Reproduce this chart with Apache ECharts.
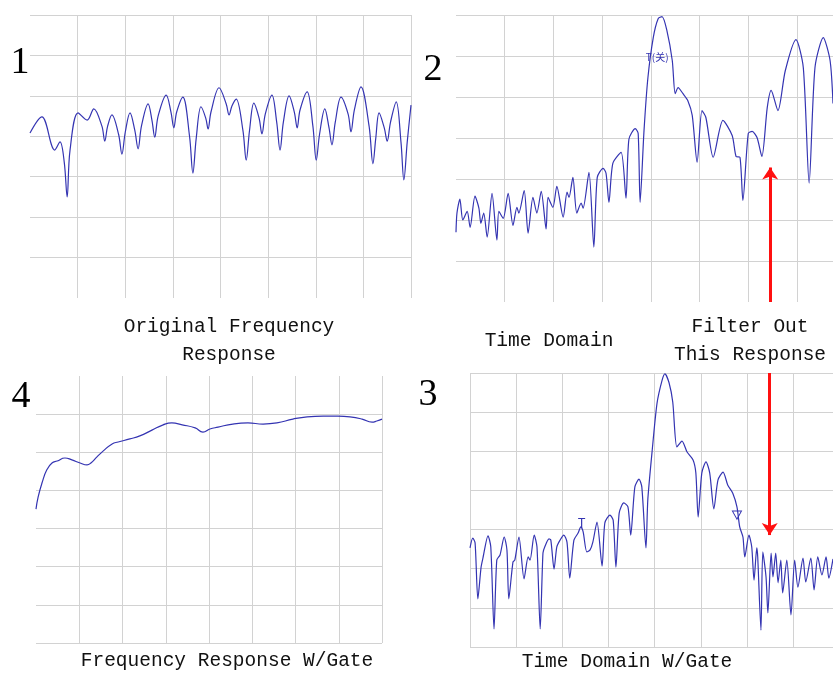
<!DOCTYPE html>
<html>
<head>
<meta charset="utf-8">
<script src="https://cdn.jsdelivr.net/npm/echarts@6/dist/echarts.min.js"></script>
<style>
    html, body { margin: 0; padding: 0; background: #fff; }
    #chart { width: 833px; height: 673px; }
</style>
</head>
<body>
<div id="chart"></div>
<script>
// panel 1 - original frequency response
const origFreqX = [0, 0.25, 0.52, 0.63, 0.72, 0.78, 0.84, 1.01, 1.20, 1.34, 1.51, 1.57, 1.63, 1.72, 1.86, 1.93, 2.00, 2.10, 2.20, 2.27, 2.34, 2.48, 2.56, 2.62, 2.69, 2.86, 2.96, 3.02, 3.08, 3.21, 3.35, 3.42, 3.49, 3.59, 3.69, 3.74, 3.80, 3.97, 4.12, 4.18, 4.24, 4.33, 4.47, 4.54, 4.61, 4.70, 4.81, 4.87, 4.94, 5.08, 5.18, 5.25, 5.32, 5.44, 5.55, 5.61, 5.67, 5.82, 5.94, 6.01, 6.08, 6.19, 6.28, 6.34, 6.41, 6.53, 6.68, 6.74, 6.81, 6.95, 7.12, 7.20, 7.26, 7.33, 7.44, 7.50, 7.57, 7.69, 7.79, 7.85, 7.92, 8.0];
const origFreqY = [40.8, 44.8, 36.6, 38.6, 33.5, 25.0, 36.5, 45.8, 44.0, 46.8, 42.5, 38.8, 42.5, 45.3, 40.5, 35.6, 41.0, 45.8, 41.5, 36.9, 42.5, 48.0, 44.0, 39.8, 45.0, 50.2, 46.0, 42.1, 46.0, 49.7, 40.0, 30.9, 39.5, 47.3, 44.5, 41.8, 46.0, 52.0, 48.0, 45.3, 47.5, 49.2, 41.5, 34.1, 41.5, 48.2, 44.5, 40.6, 45.5, 50.2, 43.5, 36.6, 43.5, 50.0, 46.0, 42.1, 46.5, 51.0, 42.5, 34.1, 40.5, 46.8, 42.0, 37.9, 43.5, 49.7, 45.5, 41.1, 46.5, 52.2, 42.5, 33.2, 39.5, 45.8, 42.0, 38.8, 43.5, 48.5, 38.5, 29.2, 38.5, 47.7];

// panel 2 - time domain
const timeX = [0.00, 0.02, 0.08, 0.14, 0.23, 0.29, 0.39, 0.47, 0.51, 0.57, 0.64, 0.74, 0.84, 0.88, 0.97, 1.07, 1.17, 1.25, 1.29, 1.40, 1.48, 1.58, 1.66, 1.75, 1.85, 1.89, 1.99, 2.07, 2.20, 2.28, 2.32, 2.40, 2.48, 2.57, 2.61, 2.73, 2.83, 2.90, 3.02, 3.08, 3.14, 3.22, 3.39, 3.49, 3.55, 3.68, 3.74, 3.78, 3.86, 3.94, 4.05, 4.15, 4.23, 4.33, 4.44, 4.50, 4.56, 4.66, 4.76, 4.85, 4.95, 5.05, 5.13, 5.28, 5.48, 5.67, 5.75, 5.83, 5.89, 6.00, 6.08, 6.18, 6.28, 6.39, 6.47, 6.61, 6.76, 6.98, 7.13, 7.25, 7.37, 7.54, 7.68, 7.74];
const timeY = [17.0, 21.7, 25.1, 20.0, 22.1, 18.2, 25.8, 22.9, 19.2, 21.7, 15.8, 26.5, 15.1, 22.1, 20.4, 26.5, 18.7, 23.1, 21.7, 27.2, 16.8, 25.5, 21.7, 27.0, 17.8, 25.5, 23.1, 28.2, 20.7, 26.8, 25.5, 30.4, 21.7, 24.1, 22.9, 31.6, 13.4, 30.4, 32.6, 31.4, 24.3, 33.8, 36.5, 25.3, 39.7, 42.3, 41.1, 24.3, 41.8, 54.7, 64.5, 69.1, 69.6, 66.2, 58.9, 50.8, 52.3, 50.8, 49.1, 45.5, 34.1, 46.7, 45.0, 35.3, 44.3, 40.6, 35.5, 35.3, 24.8, 41.1, 41.6, 40.1, 35.5, 47.4, 51.6, 46.7, 56.4, 64.0, 57.2, 29.0, 57.2, 64.5, 58.9, 48.4];

// panel 3 - time domain with gate
const gatedTimeX = [0.00, 0.06, 0.11, 0.17, 0.24, 0.28, 0.39, 0.45, 0.52, 0.58, 0.65, 0.74, 0.80, 0.84, 0.93, 0.97, 1.06, 1.17, 1.26, 1.30, 1.39, 1.45, 1.52, 1.58, 1.62, 1.71, 1.75, 1.82, 1.88, 1.95, 2.03, 2.10, 2.16, 2.25, 2.34, 2.40, 2.45, 2.53, 2.60, 2.66, 2.75, 2.86, 2.92, 3.03, 3.10, 3.16, 3.23, 3.33, 3.42, 3.48, 3.57, 3.66, 3.72, 3.81, 3.85, 3.94, 4.05, 4.16, 4.22, 4.31, 4.39, 4.48, 4.59, 4.70, 4.83, 4.89, 4.94, 5.02, 5.11, 5.19, 5.28, 5.37, 5.48, 5.58, 5.69, 5.78, 5.84, 5.91, 5.95, 6.04, 6.10, 6.15, 6.21, 6.23, 6.30, 6.34, 6.41, 6.45, 6.52, 6.56, 6.62, 6.67, 6.73, 6.77, 6.86, 6.95, 7.03, 7.10, 7.21, 7.27, 7.38, 7.45, 7.53, 7.62, 7.71, 7.77, 7.86];
const gatedTimeY = [25.3, 27.8, 26.6, 12.3, 20.4, 22.7, 28.4, 25.6, 4.6, 22.2, 23.5, 28.1, 24.8, 12.3, 21.7, 22.2, 28.1, 17.4, 23.0, 22.2, 28.6, 25.6, 4.6, 24.0, 25.6, 27.6, 27.3, 19.9, 25.6, 27.3, 28.6, 26.8, 17.6, 27.3, 29.1, 30.7, 29.4, 24.3, 24.8, 26.8, 31.9, 20.7, 31.7, 33.7, 32.4, 20.4, 34.2, 36.8, 35.8, 28.6, 40.9, 42.9, 40.9, 25.3, 37.6, 49.6, 62.3, 68.2, 69.8, 67.5, 62.6, 51.1, 52.6, 49.8, 47.8, 44.5, 33.2, 44.5, 47.3, 44.5, 35.3, 42.7, 44.7, 41.4, 39.3, 35.8, 30.7, 28.1, 23.0, 28.6, 25.6, 17.1, 25.3, 23.0, 4.3, 24.3, 17.9, 8.7, 24.0, 17.9, 24.0, 16.4, 22.2, 13.8, 22.2, 8.2, 22.2, 15.3, 22.7, 16.6, 22.7, 14.6, 23.0, 18.4, 23.0, 17.6, 22.5];

// panel 4 - frequency response with gate
const gatedFreqX = [0.00, 0.05, 0.14, 0.25, 0.37, 0.49, 0.67, 0.83, 1.02, 1.18, 1.27, 1.41, 1.55, 1.76, 1.90, 2.17, 2.40, 2.68, 2.94, 3.14, 3.38, 3.68, 3.86, 4.02, 4.21, 4.55, 4.90, 5.25, 5.57, 5.94, 6.27, 6.64, 6.98, 7.26, 7.54, 7.77, 7.88, 8.00];
const gatedFreqY = [35.1, 38.3, 42.0, 45.4, 47.2, 47.7, 48.5, 48.0, 47.2, 46.7, 47.2, 48.8, 50.3, 52.2, 52.7, 53.5, 54.3, 55.8, 57.2, 57.7, 57.2, 56.4, 55.3, 56.1, 56.6, 57.4, 57.7, 57.4, 57.7, 58.7, 59.3, 59.5, 59.5, 59.3, 58.7, 57.9, 58.2, 58.7];

// gate arrows (x position, tip value) and markers
const arrowTime = [6.45, 32.8];
const arrowGated = [6.49, 28.6];
const startMarker = [4.13, 59.6];
const gateStartMarker = [2.42, 31.6];
const gateStopMarker = [5.78, 33.7];

const panelNumbers = ["1", "2", "3", "4"];
const captions = ["Original Frequency\nResponse", "Time Domain", "Filter Out\nThis Response", "Time Domain W/Gate", "Frequency Response W/Gate"];

const LINE = "#3434b2";
const GRID = "#d2d2d2";
const ARROW = "#ff1010";
const CAPTION_FONT = "19.5px 'Liberation Mono', 'DejaVu Sans Mono', monospace";
const NUMBER_FONT = "38px 'Liberation Serif', 'DejaVu Serif', serif";

function zip(xs, ys) {
    return xs.map((x, i) => [x, ys[i]]);
}

function xAxis(gridIndex, max, showMin, showMax) {
    return {
        type: "value",
        gridIndex: gridIndex,
        min: 0,
        max: max,
        interval: 1,
        axisLine: { show: false },
        axisTick: { show: false },
        axisLabel: { show: false },
        splitLine: {
            show: true,
            showMinLine: showMin,
            showMaxLine: showMax,
            lineStyle: { color: GRID, width: 1 }
        }
    };
}

function yAxis(gridIndex, showMin, showMax) {
    return {
        type: "value",
        gridIndex: gridIndex,
        min: 0,
        max: 70,
        interval: 10,
        axisLine: { show: false },
        axisTick: { show: false },
        axisLabel: { show: false },
        splitLine: {
            show: true,
            showMinLine: showMin,
            showMaxLine: showMax,
            lineStyle: { color: GRID, width: 1 }
        }
    };
}

function lineSeries(index, data, smooth, extra) {
    const s = {
        type: "line",
        xAxisIndex: index,
        yAxisIndex: index,
        data: data,
        showSymbol: false,
        symbol: "none",
        smooth: smooth,
        lineStyle: { color: LINE, width: 1.2 },
        silent: true
    };
    return Object.assign(s, extra || {});
}

function gateArrow(x, from, to) {
    return {
        silent: true,
        symbol: ["none", "arrow"],
        symbolSize: [12, 12],
        lineStyle: { color: ARROW, width: 3, type: "solid" },
        label: { show: false },
        data: [[{ coord: [x, from] }, { coord: [x, to] }]]
    };
}

function textMarker(coord, text, size) {
    return {
        name: text,
        coord: coord,
        symbol: "circle",
        symbolSize: 1,
        itemStyle: { color: "transparent" },
        label: {
            show: true,
            position: "inside",
            formatter: text,
            color: LINE,
            fontSize: size,
            fontFamily: "'Noto Sans CJK SC', 'DejaVu Sans', sans-serif"
        }
    };
}

function caption(x, y, text) {
    return {
        type: "text",
        x: x,
        y: y,
        silent: true,
        style: {
            text: text,
            font: CAPTION_FONT,
            fill: "#111",
            align: "center",
            verticalAlign: "middle",
            lineHeight: 28
        }
    };
}

function number(x, y, text) {
    return {
        type: "text",
        x: x,
        y: y,
        silent: true,
        style: {
            text: text,
            font: NUMBER_FONT,
            fill: "#000",
            align: "center",
            verticalAlign: "middle"
        }
    };
}

const chart = echarts.init(document.getElementById("chart"), null, { renderer: "canvas" });

chart.setOption({
    animation: false,
    backgroundColor: "#fff",
    grid: [
        { left: 30, top: 15, width: 381, height: 283 },
        { left: 456, top: 15, width: 377, height: 287 },
        { left: 470, top: 373, width: 363, height: 274 },
        { left: 36, top: 376, width: 346, height: 267 }
    ],
    xAxis: [
        xAxis(0, 8, false, true),
        xAxis(1, 7.74, false, false),
        xAxis(2, 7.86, true, false),
        xAxis(3, 8, false, true)
    ],
    yAxis: [
        yAxis(0, false, true),
        yAxis(1, false, true),
        yAxis(2, true, true),
        yAxis(3, true, false)
    ],
    series: [
        lineSeries(0, zip(origFreqX, origFreqY), 0.35),
        lineSeries(1, zip(timeX, timeY), 0.25, {
            markLine: gateArrow(arrowTime[0], 0, arrowTime[1]),
            markPoint: { silent: true, data: [textMarker(startMarker, "T(关)", 10)] }
        }),
        lineSeries(2, zip(gatedTimeX, gatedTimeY), 0.25, {
            markLine: gateArrow(arrowGated[0], 70, arrowGated[1]),
            markPoint: {
                silent: true,
                data: [
                    textMarker(gateStartMarker, "T", 13),
                    {
                        name: "stop",
                        coord: gateStopMarker,
                        symbol: "triangle",
                        symbolRotate: 180,
                        symbolSize: [9, 8],
                        itemStyle: { color: "transparent", borderColor: LINE, borderWidth: 1 },
                        label: { show: false }
                    }
                ]
            }
        }),
        lineSeries(3, zip(gatedFreqX, gatedFreqY), 0.5)
    ],
    graphic: [
        number(20, 63, panelNumbers[0]),
        number(433, 70, panelNumbers[1]),
        number(428, 395, panelNumbers[2]),
        number(21, 397, panelNumbers[3]),
        caption(229, 341, captions[0]),
        caption(549, 341, captions[1]),
        caption(750, 341, captions[2]),
        caption(627, 662, captions[3]),
        caption(227, 661, captions[4])
    ]
});
</script>
</body>
</html>
